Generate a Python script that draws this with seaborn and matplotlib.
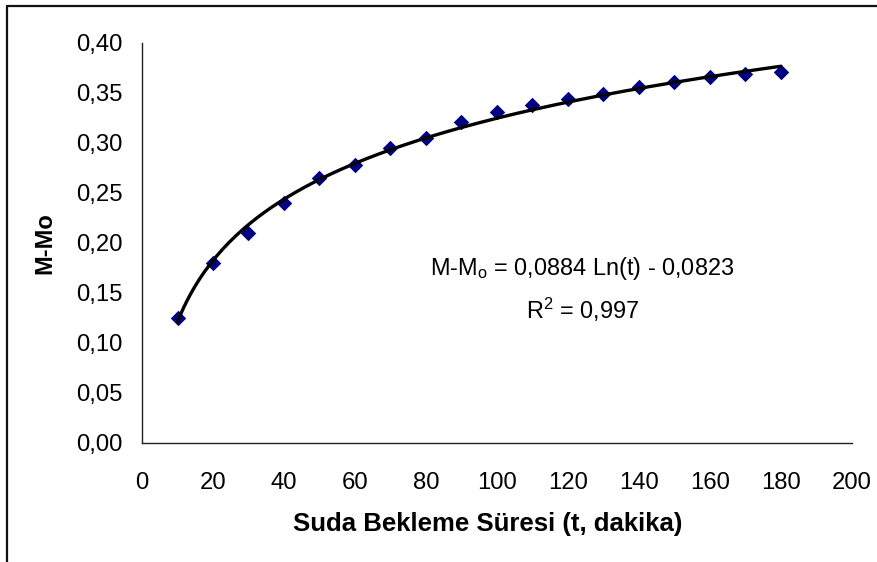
import numpy as np
import pandas as pd
import seaborn as sns
import matplotlib
matplotlib.use("Agg")
import matplotlib.pyplot as plt
from matplotlib.lines import Line2D

# ---- data ----
time_min = [10, 20, 30, 40, 50, 60, 70, 80, 90, 100, 110, 120, 130, 140, 150, 160, 170, 180]
m_minus_mo = [0.125, 0.180, 0.210, 0.240, 0.265, 0.278, 0.295, 0.305, 0.321, 0.331,
              0.338, 0.344, 0.349, 0.356, 0.361, 0.366, 0.369, 0.371]
trend_a = 0.0884   # coefficient of Ln(t) from the chart's equation
trend_b = -0.0823  # intercept from the chart's equation
x_ticks = [0, 20, 40, 60, 80, 100, 120, 140, 160, 180, 200]
y_ticks = [0.00, 0.05, 0.10, 0.15, 0.20, 0.25, 0.30, 0.35, 0.40]
x_label = "Suda Bekleme Süresi (t, dakika)"
y_label = "M-Mo"
eq_text = r"M-M$_\mathrm{o}$ = 0,0884 Ln(t) - 0,0823"
r2_text = r"R$^\mathrm{2}$ = 0,997"

sns.set_theme(style="white")
plt.rcParams["font.family"] = ["Liberation Sans", "DejaVu Sans"]
plt.rcParams["mathtext.fontset"] = "custom"
plt.rcParams["mathtext.rm"] = "Liberation Sans"
plt.rcParams["mathtext.it"] = "Liberation Sans:italic"
plt.rcParams["mathtext.bf"] = "Liberation Sans:bold"

W, H, DPI = 878, 562, 100
fig = plt.figure(figsize=(W / DPI, H / DPI), dpi=DPI)
fig.patch.set_facecolor("white")

# axes placement in pixels: x 142..852, y 43..443
ax = fig.add_axes([142 / W, 1 - 443 / H, (852 - 142) / W, (443 - 43) / H])
ax.set_facecolor("white")

df = pd.DataFrame({"t": time_min, "m": m_minus_mo})
t_fit = np.linspace(min(time_min), max(time_min), 200)
df_fit = pd.DataFrame({"t": t_fit, "m": trend_a * np.log(t_fit) + trend_b})

sns.scatterplot(data=df, x="t", y="m", marker="D", s=62, color="#000080",
                linewidth=0, ax=ax, zorder=3)
sns.lineplot(data=df_fit, x="t", y="m", color="black", linewidth=2.4, ax=ax,
             zorder=4)

ax.set_xlim(0, 200)
ax.set_ylim(0, 0.40)
ax.set_xticks(x_ticks)
ax.set_yticks(y_ticks)
ax.set_xticklabels([str(v) for v in x_ticks])
ax.set_yticklabels([f"{v:.2f}".replace(".", ",") for v in y_ticks])

for side in ["top", "right"]:
    ax.spines[side].set_visible(False)
for side in ["left", "bottom"]:
    ax.spines[side].set_color("#222222")
    ax.spines[side].set_linewidth(1.0)

ax.tick_params(axis="both", which="major", direction="out", length=6,
               width=1.0, color="#222222", labelsize=17.2, labelcolor="black")
ax.tick_params(axis="x", pad=15)
ax.tick_params(axis="y", pad=8)

ax.set_xlabel(x_label, fontsize=18.5, fontweight="bold", color="black")
ax.set_ylabel(y_label, fontsize=17, fontweight="bold", color="black")
ax.xaxis.set_label_coords((487.5 - 142) / 710, (443 - 512) / 400)
ax.yaxis.set_label_coords((56 - 142) / 710, (443 - 243.5) / 400)

ax.text(124, 0.175, eq_text, ha="center", va="center", fontsize=16.9, color="black")
ax.text(124, 0.133, r2_text, ha="center", va="center", fontsize=16.9, color="black")

# outer chart border (left and top visible, the rest cropped)
bx, by = 7.5 / W, 1 - 5.5 / H
fig.add_artist(Line2D([bx, bx], [0, by], transform=fig.transFigure,
                      color="#111111", linewidth=1.6))
fig.add_artist(Line2D([bx, 1], [by, by], transform=fig.transFigure,
                      color="#111111", linewidth=1.6))

fig.savefig("out.png", dpi=DPI, facecolor="white")
